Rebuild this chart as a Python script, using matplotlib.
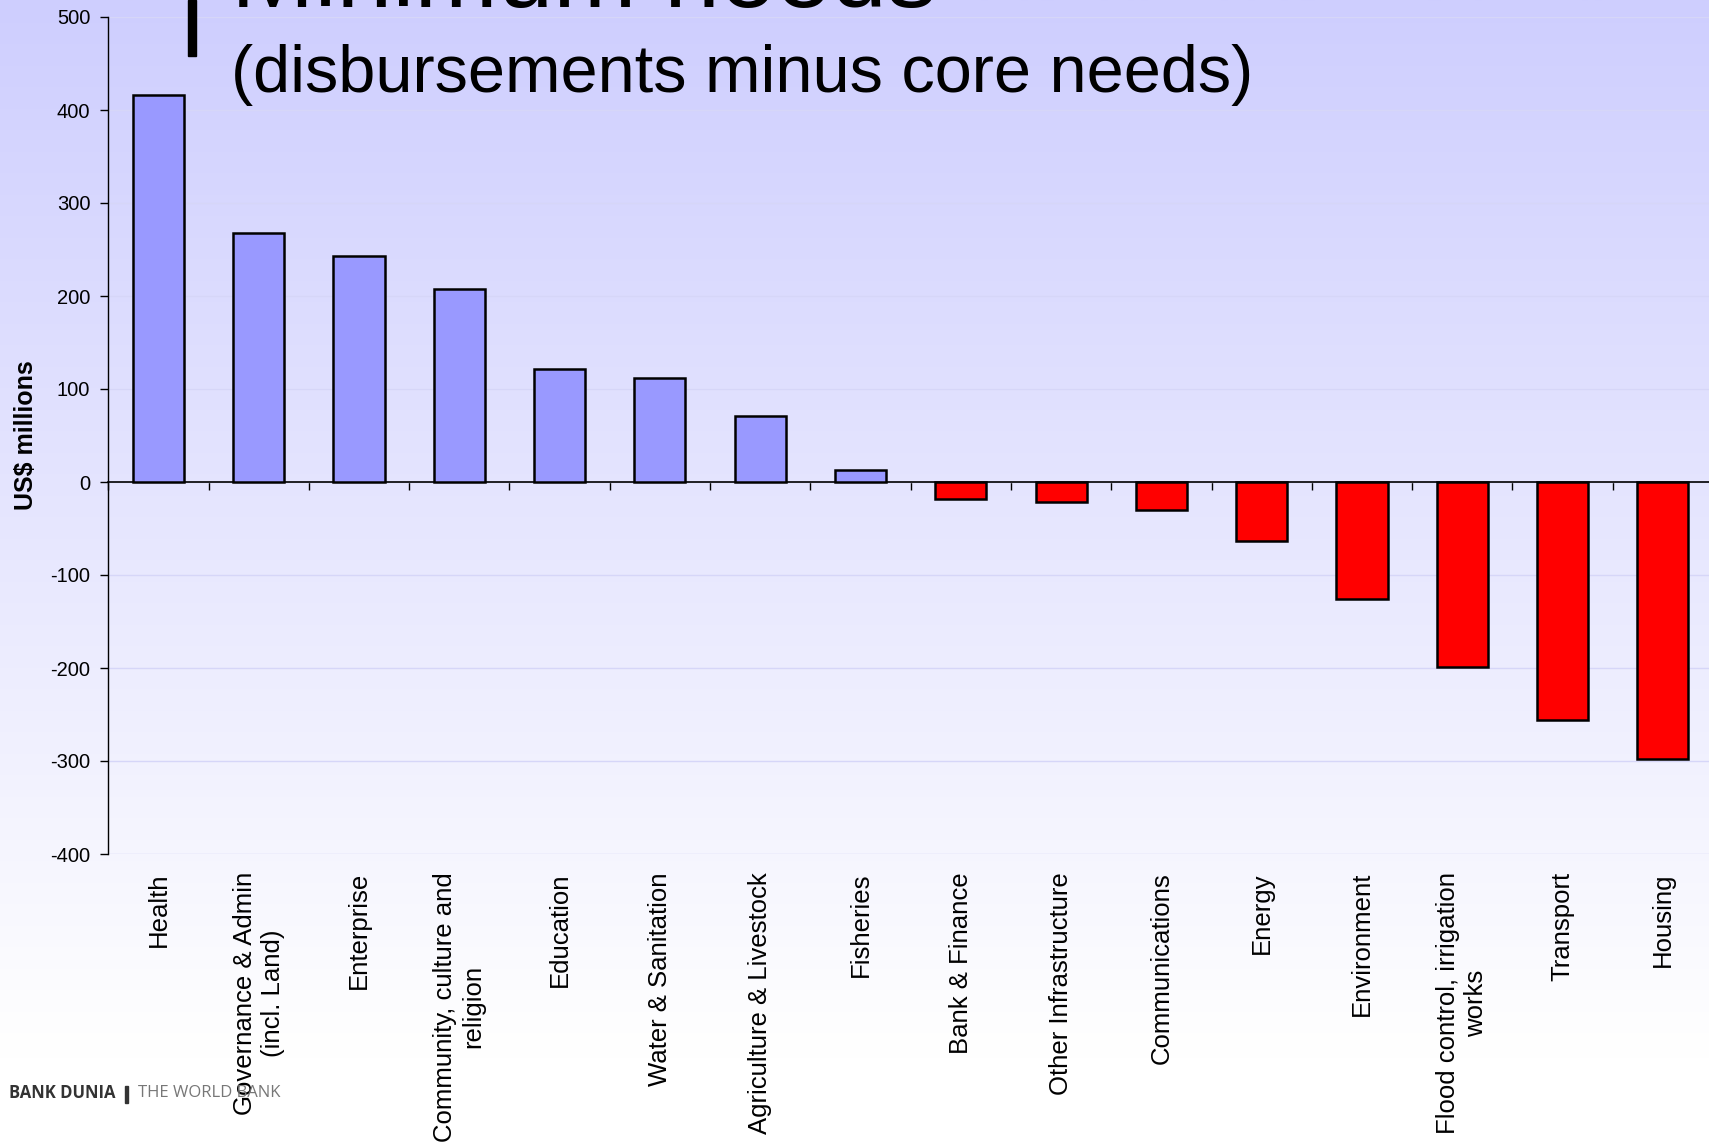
import matplotlib
matplotlib.use("Agg")
import matplotlib.pyplot as plt
from matplotlib.patches import Rectangle
import numpy as np

categories = [
    "Health", "Governance & Admin\n(incl. Land)", "Enterprise",
    "Community, culture and\nreligion", "Education", "Water & Sanitation",
    "Agriculture & Livestock", "Fisheries", "Bank & Finance",
    "Other Infrastructure", "Communications", "Energy", "Environment",
    "Flood control, irrigation\nworks", "Transport", "Housing",
]
gap_values = [416, 268, 243, 208, 122, 112, 71, 13, -18, -22, -30, -63,
              -126, -199, -256, -298]
y_ticks = [-400, -300, -200, -100, 0, 100, 200, 300, 400, 500]

POS_C = "#9999FF"
NEG_C = "#FF0000"
GRID_C = "#D6D6F8"
W, H = 1709, 1148

plt.rcParams["font.family"] = ["Liberation Sans", "DejaVu Sans"]
plt.rcParams["axes.unicode_minus"] = False

fig = plt.figure(figsize=(W / 100, H / 100), dpi=100)

# vertical lavender-to-white background
bg = fig.add_axes([0, 0, 1, 1], zorder=-10)
top = np.array([206, 206, 254]) / 255
t = np.clip(np.linspace(0, 1, 400) / 0.92, 0, 1)[:, None]
grad = top * (1 - t) + np.ones(3) * t
bg.imshow(grad[:, None, :], aspect="auto", extent=[0, 1, 0, 1])
bg.set_axis_off()

x0, x1 = 108.3, 1713
y_top, y_bot = 17, 854
ax = fig.add_axes([x0 / W, 1 - y_bot / H, (x1 - x0) / W, (y_bot - y_top) / H])
ax.set_facecolor("none")

x = np.arange(len(categories))
colors = [POS_C if v >= 0 else NEG_C for v in gap_values]
ax.bar(x, gap_values, width=0.51, color=colors, edgecolor="black",
       linewidth=1.8, zorder=3)

ax.set_xlim(-0.5, len(categories) - 0.5)
ax.set_ylim(-400, 500)
ax.set_yticks(y_ticks)
ax.tick_params(axis="y", direction="out", length=6, width=1, labelsize=14.5,
               pad=7, colors="black")
ax.yaxis.grid(True, color=GRID_C, lw=1, zorder=0)
ax.set_axisbelow(True)

for side in ("top", "right"):
    ax.spines[side].set_visible(False)
ax.spines["left"].set_linewidth(1)
ax.spines["bottom"].set_position(("data", 0))
ax.spines["bottom"].set_linewidth(1.2)
ax.set_xticks(np.arange(-0.5, len(categories), 1))
ax.tick_params(axis="x", direction="out", length=6, width=1, labelbottom=False)

sec = ax.secondary_xaxis("bottom")
sec.set_xticks(x, categories)
sec.tick_params(length=0, pad=13, labelsize=18.5, labelrotation=90)
sec.spines["bottom"].set_visible(False)

ax.set_ylabel("US$ millions", fontsize=18, fontweight="bold")
ax.yaxis.set_label_coords(-0.0435, 0.5)

# slide heading (cut off at top) and subtitle
fig.text(231 / W, 1 - 7 / H, "Minimum needs", fontsize=72, va="baseline",
         ha="left")
fig.text(231 / W, 1 - 75 / H, "(disbursements minus core needs)",
         fontsize=48, va="center", ha="left")
fig.patches.append(Rectangle((188 / W, 1 - 56 / H), 8 / W, 56 / H,
                             transform=fig.transFigure, color="black"))

# logo footer
fig.text(9 / W, 1 - 1093 / H, "BANK DUNIA", fontsize=12, fontweight="bold",
         color="#333333", va="center", family=["Open Sans", "DejaVu Sans"])
fig.patches.append(Rectangle((125 / W, 1 - 1103 / H), 3 / W, 17 / H,
                             transform=fig.transFigure, color="#333333"))
fig.text(138 / W, 1 - 1093 / H, "THE WORLD BANK", fontsize=12,
         color="#777777", va="center", family=["Open Sans", "DejaVu Sans"])

fig.savefig("out.png", dpi=100)
